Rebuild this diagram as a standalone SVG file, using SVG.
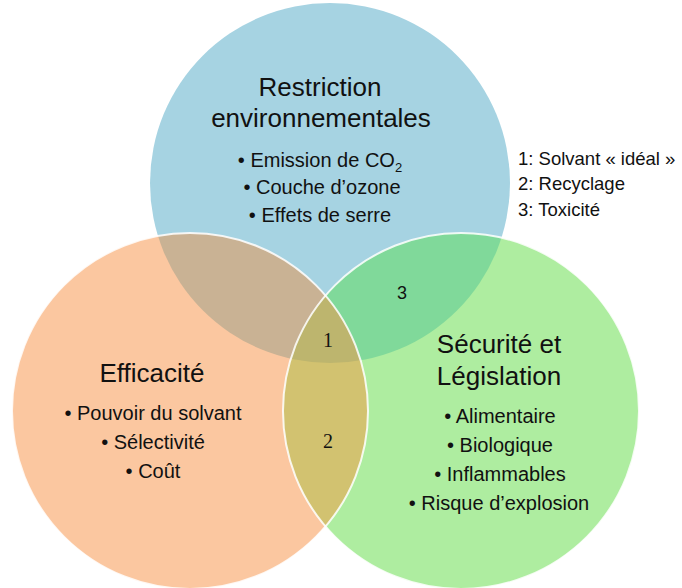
<svg xmlns="http://www.w3.org/2000/svg" width="682" height="588" viewBox="0 0 682 588">
<style>
.t{font-family:"Liberation Sans",Arial,sans-serif;fill:#111;text-anchor:middle}
.h{font-size:26px}
.b{font-size:20px}
.n{font-family:"Liberation Serif","Times New Roman",serif;font-size:20px;fill:#111;text-anchor:middle}
.lg{font-family:"Liberation Sans",Arial,sans-serif;font-size:18.5px;fill:#111}
.edge{fill:none;stroke:#fff;stroke-width:2;stroke-opacity:0.85}
</style>
<defs>
<clipPath id="cB"><circle cx="330" cy="183" r="180"/></clipPath>
<clipPath id="cO"><circle cx="190" cy="411" r="178"/></clipPath>
<clipPath id="cG"><circle cx="461" cy="411" r="178"/></clipPath>
</defs>
<rect width="682" height="588" fill="#fff"/>
<g id="circles">
<circle cx="330" cy="183" r="180" fill="#a6d3e2"/>
<circle cx="190" cy="411" r="178" fill="#fbc7a0"/>
<circle cx="461" cy="411" r="178" fill="#aeeda0"/>
<circle cx="190" cy="411" r="178" fill="#c9b294" clip-path="url(#cB)"/>
<circle cx="461" cy="411" r="178" fill="#80d99a" clip-path="url(#cB)"/>
<circle cx="190" cy="411" r="178" fill="#d2c270" clip-path="url(#cG)"/>
<g clip-path="url(#cG)"><circle cx="190" cy="411" r="178" fill="#bdb56e" clip-path="url(#cB)"/></g>
<circle class="edge" cx="190" cy="411" r="178"/>
<circle class="edge" cx="461" cy="411" r="178"/>
</g>
<g id="connectors"/>
<g id="node-env">
<text class="t h" x="320" y="96">Restriction</text>
<text class="t h" x="321" y="127">environnementales</text>
<text class="t b" x="320" y="167">• Emission de CO<tspan font-size="13" dy="5">2</tspan></text>
<text class="t b" x="322" y="194">• Couche d’ozone</text>
<text class="t b" x="320" y="222">• Effets de serre</text>
</g>
<g id="node-eff">
<text class="t h" x="152" y="382">Efficacité</text>
<text class="t b" x="153" y="420">• Pouvoir du solvant</text>
<text class="t b" x="153" y="449">• Sélectivité</text>
<text class="t b" x="153" y="478">• Coût</text>
</g>
<g id="node-sec">
<text class="t h" x="499" y="353">Sécurité et</text>
<text class="t h" x="499" y="385">Législation</text>
<text class="t b" x="500" y="423">• Alimentaire</text>
<text class="t b" x="500" y="452">• Biologique</text>
<text class="t b" x="500" y="481">• Inflammables</text>
<text class="t b" x="499" y="510">• Risque d’explosion</text>
</g>
<g id="zones">
<text class="n" x="328" y="347">1</text>
<text class="n" x="328" y="448">2</text>
<text class="t" font-size="18" x="402" y="299">3</text>
</g>
<g id="legend">
<text class="lg" x="518" y="165">1: Solvant « idéal »</text>
<text class="lg" x="518" y="190">2: Recyclage</text>
<text class="lg" x="518" y="216">3: Toxicité</text>
</g>
</svg>
